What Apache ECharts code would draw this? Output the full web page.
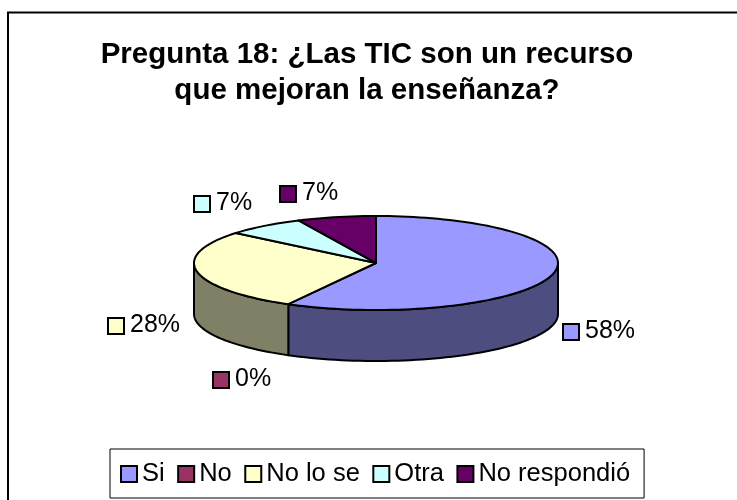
<!DOCTYPE html>
<html><head><meta charset="utf-8">
<style>html,body{margin:0;padding:0;background:#fff}#c{width:737px;height:500px}</style>
<script src="https://cdn.jsdelivr.net/npm/echarts@6/dist/echarts.min.js"></script>
</head><body><div id="c"></div>
<script>
const titleText = 'Pregunta 18: ¿Las TIC son un recurso\nque mejoran la enseñanza?';
const categories = ['Si', 'No', 'No lo se', 'Otra', 'No respondió'];
const percentages = [58, 0, 28, 7, 7];
const topColors = ['#9999FF', '#993366', '#FFFFCC', '#CCFFFF', '#660066'];
const sideColors = ['#4D4D80', '#4D1A33', '#808066', '#668080', '#330033'];

// Layout only: the pie's projection and where each key + percentage sits.
const pie = { cx: 376, cy: 263, rx: 182, ry: 47, depth: 51 };
const labelKeys = [[571, 332], [221, 380], [116, 326], [202, 204], [288, 194]];
const FONT = '"Liberation Sans", Arial, sans-serif';

const total = percentages.reduce((a, b) => a + b, 0);
const point = (deg, dy) => {
  const t = deg * Math.PI / 180;
  return [pie.cx + pie.rx * Math.sin(t), pie.cy - pie.ry * Math.cos(t) + (dy || 0)];
};
const arc = (from, to, dy) => {
  const pts = [];
  const n = Math.max(1, Math.ceil(Math.abs(to - from) / 2));
  for (let i = 0; i <= n; i++) pts.push(point(from + (to - from) * i / n, dy));
  return pts;
};

const series = categories.map((name, idx) => ({
  type: 'custom',
  name,
  coordinateSystem: 'none',
  silent: true,
  z: 2,
  itemStyle: { color: topColors[idx], borderColor: '#000', borderWidth: 2 },
  data: [[percentages[idx], percentages.slice(0, idx).reduce((a, b) => a + b, 0)]],
  renderItem(params, api) {
    const start = api.value(1) / total * 360;
    const end = start + api.value(0) / total * 360;
    const line = { stroke: '#000', lineWidth: 2, lineJoin: 'round' };
    const children = [];
    const sFrom = Math.max(start, 90), sTo = Math.min(end, 270);
    if (sTo > sFrom) {
      children.push({
        type: 'polygon', z2: 1,
        shape: { points: arc(sFrom, sTo, 0).concat(arc(sTo, sFrom, pie.depth)) },
        style: Object.assign({ fill: sideColors[idx] }, line)
      });
    }
    if (end > start) {
      children.push({
        type: 'polygon', z2: 2,
        shape: { points: [[pie.cx, pie.cy]].concat(arc(start, end, 0)) },
        style: Object.assign({ fill: topColors[idx] }, line)
      });
    }
    const [kx, ky] = labelKeys[idx];
    children.push({
      type: 'rect', z2: 3,
      shape: { x: kx - 8, y: ky - 8, width: 16, height: 16 },
      style: { fill: topColors[idx], stroke: '#000', lineWidth: 2 }
    });
    children.push({
      type: 'text', z2: 3,
      x: kx + 14, y: ky - 1,
      style: { text: api.value(0) + '%', fill: '#000', font: '25px ' + FONT, textAlign: 'left', textVerticalAlign: 'middle' }
    });
    return { type: 'group', children };
  }
}));

const chart = echarts.init(document.getElementById('c'), null, { renderer: 'canvas' });
chart.setOption({
  animation: false,
  backgroundColor: '#fff',
  title: {
    text: titleText, left: 362, top: 32, textAlign: 'center',
    textStyle: { fontFamily: FONT, fontSize: 29.5, fontWeight: 'bold', color: '#000', lineHeight: 36 }
  },
  legend: {
    left: 110, top: 449, orient: 'horizontal',
    data: categories,
    icon: 'rect', itemWidth: 16, itemHeight: 16, itemGap: 12.5,
    padding: [12, 14, 11, 10],
    borderColor: '#000', borderWidth: 1, backgroundColor: '#fff',
    selectedMode: false,
    itemStyle: { borderColor: '#000', borderWidth: 2 },
    textStyle: { fontFamily: FONT, fontSize: 25.5, color: '#000' }
  },
  graphic: [{
    type: 'polyline', z: 0,
    shape: { points: [[8, 510], [8, 12.5], [745, 12.5]] },
    style: { stroke: '#000', lineWidth: 2, fill: null }
  }],
  series
});
</script></body></html>
